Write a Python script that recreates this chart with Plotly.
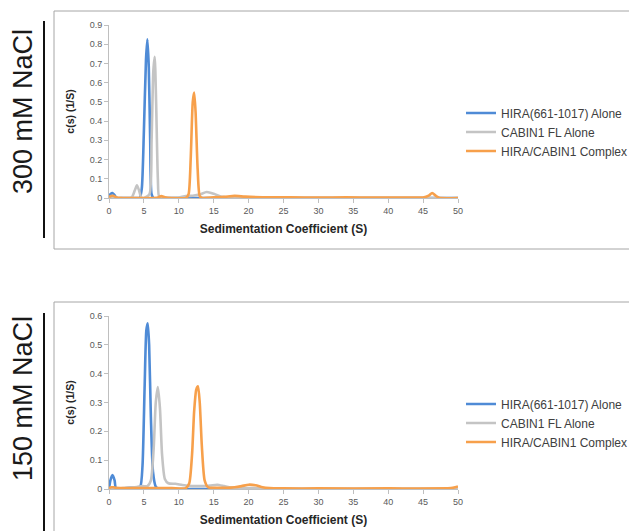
import plotly.graph_objects as go

W, H = 629, 531

# ---------------- data: 300 mM NaCl ----------------
hira_300_x = [0, 0.2, 0.5, 0.8, 1.1, 2, 3, 4, 4.4, 4.7, 5.0, 5.3, 5.5, 5.7, 5.9, 6.1, 6.4, 8, 12, 20, 30, 40, 50]
hira_300_y = [0.01, 0.02, 0.026, 0.015, 0.0, 0.0, 0.0, 0.0, 0.0, 0.05, 0.35, 0.72, 0.825, 0.68, 0.3, 0.02, 0.0, 0.0, 0.0, 0.0, 0.0, 0.0, 0.0]

cabin_300_x = [0, 1, 2, 3, 3.3, 3.7, 4.0, 4.3, 4.6, 5.0, 5.8, 6.1, 6.35, 6.55, 6.75, 7.0, 7.2, 8, 9, 10, 11, 12, 13, 14, 15, 16, 17, 18, 20, 25, 30, 40, 50]
cabin_300_y = [0.0, 0.0, 0.0, 0.0, 0.005, 0.04, 0.066, 0.04, 0.005, 0.0, 0.02, 0.3, 0.66, 0.735, 0.5, 0.1, 0.005, 0.0, 0.0, 0.003, 0.01, 0.012, 0.018, 0.031, 0.022, 0.008, 0.004, 0.002, 0.0, 0.0, 0.0, 0.0, 0.0]

cplx_300_x = [0, 0.3, 0.6, 1.0, 2, 4, 6, 7.0, 7.5, 8.0, 9, 11, 11.4, 11.7, 12.0, 12.2, 12.4, 12.7, 13.0, 13.4, 15, 16.5, 18, 19.5, 22, 26, 30, 34, 38, 42, 45, 45.8, 46.3, 46.8, 47.3, 50]
cplx_300_y = [0.005, 0.01, 0.012, 0.004, 0.0, 0.0, 0.0, 0.003, 0.01, 0.004, 0.0, 0.0, 0.02, 0.2, 0.5, 0.548, 0.45, 0.15, 0.01, 0.0, 0.003, 0.006, 0.011, 0.007, 0.004, 0.003, 0.002, 0.003, 0.002, 0.002, 0.003, 0.012, 0.026, 0.012, 0.001, 0.0]

# ---------------- data: 150 mM NaCl ----------------
hira_150_x = [0, 0.2, 0.5, 0.8, 1.0, 2, 3, 4, 4.5, 4.8, 5.1, 5.35, 5.55, 5.75, 6.0, 6.3, 6.7, 7.2, 8, 12, 20, 30, 40, 50]
hira_150_y = [0.0, 0.03, 0.048, 0.03, 0.002, 0.002, 0.004, 0.004, 0.01, 0.08, 0.35, 0.55, 0.575, 0.5, 0.25, 0.06, 0.008, 0.0, 0.0, 0.0, 0.0, 0.0, 0.0, 0.0]

cabin_150_x = [0, 1, 2, 3, 4, 4.8, 5.5, 6.0, 6.4, 6.7, 7.0, 7.3, 7.6, 8.0, 8.5, 9.5, 10.5, 11.5, 12.5, 13.5, 14.5, 15.5, 16.5, 17.5, 19, 21, 23, 30, 40, 50]
cabin_150_y = [0.0, 0.002, 0.003, 0.004, 0.007, 0.01, 0.01, 0.03, 0.14, 0.3, 0.354, 0.28, 0.12, 0.035, 0.02, 0.018, 0.014, 0.011, 0.01, 0.01, 0.012, 0.015, 0.01, 0.005, 0.004, 0.003, 0.0, 0.0, 0.0, 0.0]

cplx_150_x = [0, 0.3, 0.6, 1.0, 3, 6, 9, 11, 11.5, 11.9, 12.2, 12.5, 12.75, 13.0, 13.3, 13.7, 14.2, 15, 16, 17, 18, 19, 20, 21, 22, 23, 25, 30, 40, 49, 49.6, 50]
cplx_150_y = [0.003, 0.006, 0.006, 0.004, 0.003, 0.003, 0.003, 0.003, 0.02, 0.12, 0.27, 0.345, 0.356, 0.3, 0.15, 0.03, 0.006, 0.004, 0.004, 0.004, 0.006, 0.01, 0.015, 0.013, 0.006, 0.003, 0.002, 0.002, 0.002, 0.003, 0.006, 0.009]

series_names = ["HIRA(661-1017) Alone", "CABIN1 FL Alone", "HIRA/CABIN1 Complex"]
x_ticks = [0, 5, 10, 15, 20, 25, 30, 35, 40, 45, 50]
y_ticks_300 = [0, 0.1, 0.2, 0.3, 0.4, 0.5, 0.6, 0.7, 0.8, 0.9]
y_ticks_150 = [0, 0.1, 0.2, 0.3, 0.4, 0.5, 0.6]
panel_labels = ["300 mM NaCl", "150 mM NaCl"]

colors = ["#4f8bd6", "#c4c4c4", "#f7a04b"]
FONT = "Liberation Sans, Arial, sans-serif"

def px(x):
    return x / W

def py(y):
    return 1 - y / H

fig = go.Figure()

top = [(hira_300_x, hira_300_y), (cabin_300_x, cabin_300_y), (cplx_300_x, cplx_300_y)]
bot = [(hira_150_x, hira_150_y), (cabin_150_x, cabin_150_y), (cplx_150_x, cplx_150_y)]

for i, (xs, ys) in enumerate(top):
    fig.add_trace(go.Scatter(x=xs, y=ys, mode="lines", name=series_names[i],
                             line=dict(color=colors[i], width=2.6, shape="spline", smoothing=0.6),
                             xaxis="x", yaxis="y", legend="legend"))
for i, (xs, ys) in enumerate(bot):
    fig.add_trace(go.Scatter(x=xs, y=ys, mode="lines", name=series_names[i],
                             line=dict(color=colors[i], width=2.6, shape="spline", smoothing=0.6),
                             xaxis="x2", yaxis="y2", legend="legend2"))

axis_common = dict(showgrid=False, zeroline=False, showline=True, linecolor="#bfbfbf",
                   linewidth=1, ticks="outside", ticklen=4, tickcolor="#bfbfbf",
                   automargin=False,
                   tickfont=dict(family=FONT, size=9, color="#595959"))

xdom = [px(109), px(458)]
xtitle = dict(text="<b>Sedimentation Coefficient (S)</b>", font=dict(family=FONT, size=12, color="#262626"), standoff=9)
ytitle = dict(text="<b>c(s) (1/S)</b>", font=dict(family=FONT, size=10.5, color="#262626"), standoff=13)

legend_common = dict(xanchor="left", yanchor="middle",
                     font=dict(family=FONT, size=12, color="#404040"),
                     itemwidth=30, tracegroupgap=0, bgcolor="rgba(0,0,0,0)")

fig.update_layout(
    width=W, height=H,
    margin=dict(l=0, r=0, t=0, b=0, autoexpand=False),
    paper_bgcolor="white", plot_bgcolor="white",
    xaxis=dict(domain=xdom, range=[0, 50], tickvals=x_ticks, anchor="y", title=xtitle, **axis_common),
    yaxis=dict(domain=[py(198), py(25)], range=[0, 0.9], tickvals=y_ticks_300,
               anchor="x", title=ytitle, **axis_common),
    xaxis2=dict(domain=xdom, range=[0, 50], tickvals=x_ticks, anchor="y2", title=xtitle, **axis_common),
    yaxis2=dict(domain=[py(489), py(316)], range=[0, 0.6], tickvals=y_ticks_150,
                anchor="x2", title=ytitle, **axis_common),
    legend=dict(x=px(461), y=py(132), **legend_common),
    legend2=dict(x=px(461), y=py(423), **legend_common),
    showlegend=True,
)

shapes = []
# panel frames (right/bottom edges run past the picture)
shapes.append(dict(type="rect", xref="paper", yref="paper", x0=px(54), x1=px(700), y0=py(249), y1=py(11),
                   line=dict(color="#a6a6a6", width=1), layer="below"))
shapes.append(dict(type="rect", xref="paper", yref="paper", x0=px(54), x1=px(700), y0=py(600), y1=py(302),
                   line=dict(color="#a6a6a6", width=1), layer="below"))
# black bars next to condition labels
shapes.append(dict(type="line", xref="paper", yref="paper", x0=px(44), x1=px(44), y0=py(238), y1=py(21),
                   line=dict(color="#111111", width=2)))
shapes.append(dict(type="line", xref="paper", yref="paper", x0=px(44), x1=px(44), y0=py(540), y1=py(313),
                   line=dict(color="#111111", width=2)))
fig.update_layout(shapes=shapes)

fig.add_annotation(x=px(23), y=py(112), xref="paper", yref="paper", text=panel_labels[0],
                   xanchor="center", yanchor="middle",
                   textangle=-90, showarrow=False, font=dict(family=FONT, size=27, color="#1a1a1a"))
fig.add_annotation(x=px(23), y=py(399), xref="paper", yref="paper", text=panel_labels[1],
                   xanchor="center", yanchor="middle",
                   textangle=-90, showarrow=False, font=dict(family=FONT, size=27, color="#1a1a1a"))

fig.write_html("out.html", config={"displayModeBar": False},
               post_script="document.body.style.margin='0';document.body.style.overflow='hidden';")
